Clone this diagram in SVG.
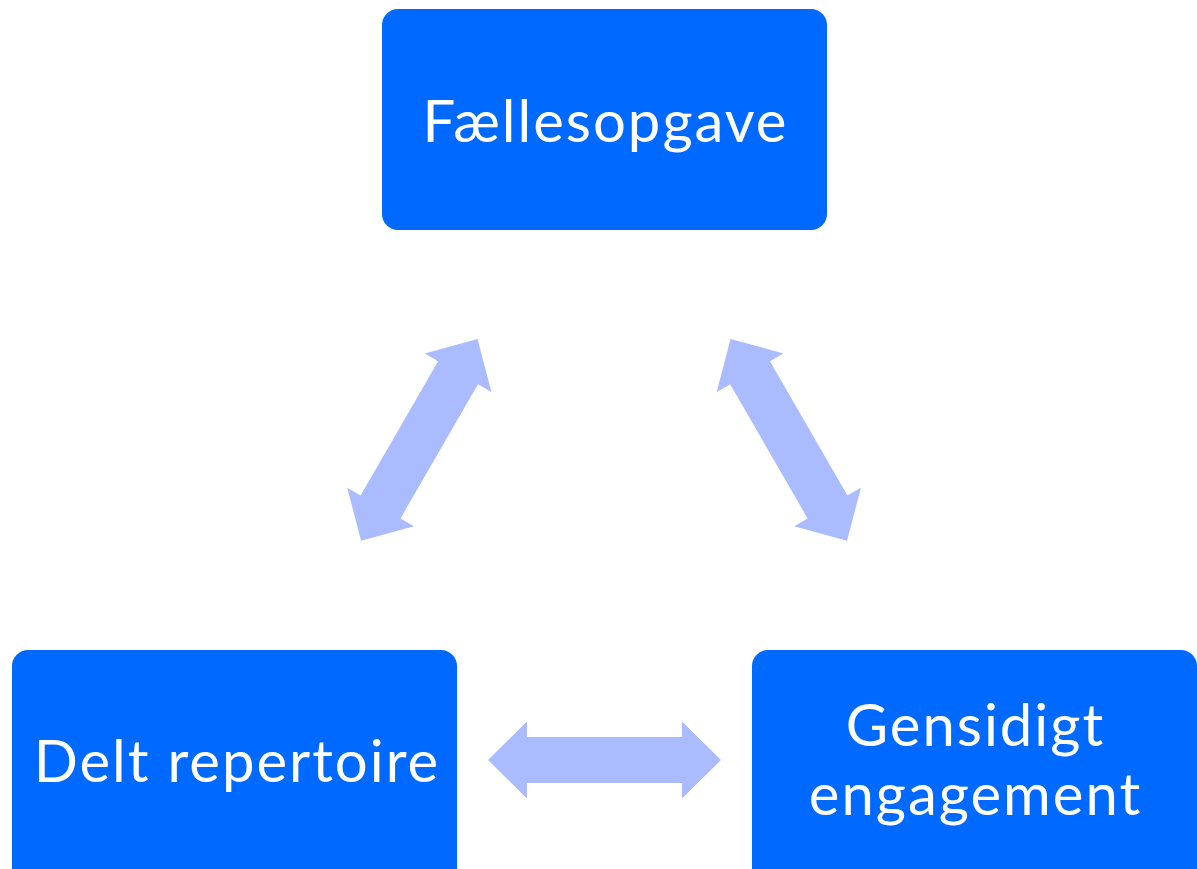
<svg xmlns="http://www.w3.org/2000/svg" width="1197" height="869" viewBox="0 0 1197 869">
<style>
.box{fill:#0069FF}
.lbl{fill:#FFFFFF;font-family:Lato,"Open Sans","Liberation Sans",sans-serif;font-size:58px;letter-spacing:2px;text-anchor:middle}
.arr{fill:#AABBFF}
</style>
<defs>
<path id="dbl" d="M -116.5 0 L -77.5 -38.5 L -77.5 -23 L 77.5 -23 L 77.5 -38.5 L 116.5 0 L 77.5 38.5 L 77.5 23 L -77.5 23 L -77.5 38.5 Z"/>
</defs>
<rect width="1197" height="869" fill="#FFFFFF"/>
<g id="connectors">
<use href="#dbl" class="arr" transform="translate(419.3 439.8) rotate(-60)"/>
<use href="#dbl" class="arr" transform="translate(788.8 439.8) rotate(60)"/>
<use href="#dbl" class="arr" transform="translate(604.5 760)"/>
</g>
<g id="node-faellesopgave">
<rect class="box" x="382" y="9" width="445" height="221" rx="16"/>
<text class="lbl" x="605.5" y="142">Fællesopgave</text>
</g>
<g id="node-delt-repertoire">
<rect class="box" x="12" y="650" width="445" height="240" rx="16"/>
<text class="lbl" x="237" y="782">Delt repertoire</text>
</g>
<g id="node-gensidigt-engagement">
<rect class="box" x="752" y="650" width="445" height="240" rx="16"/>
<text class="lbl" x="975.5" y="746">Gensidigt</text>
<text class="lbl" x="975.5" y="815">engagement</text>
</g>
</svg>
